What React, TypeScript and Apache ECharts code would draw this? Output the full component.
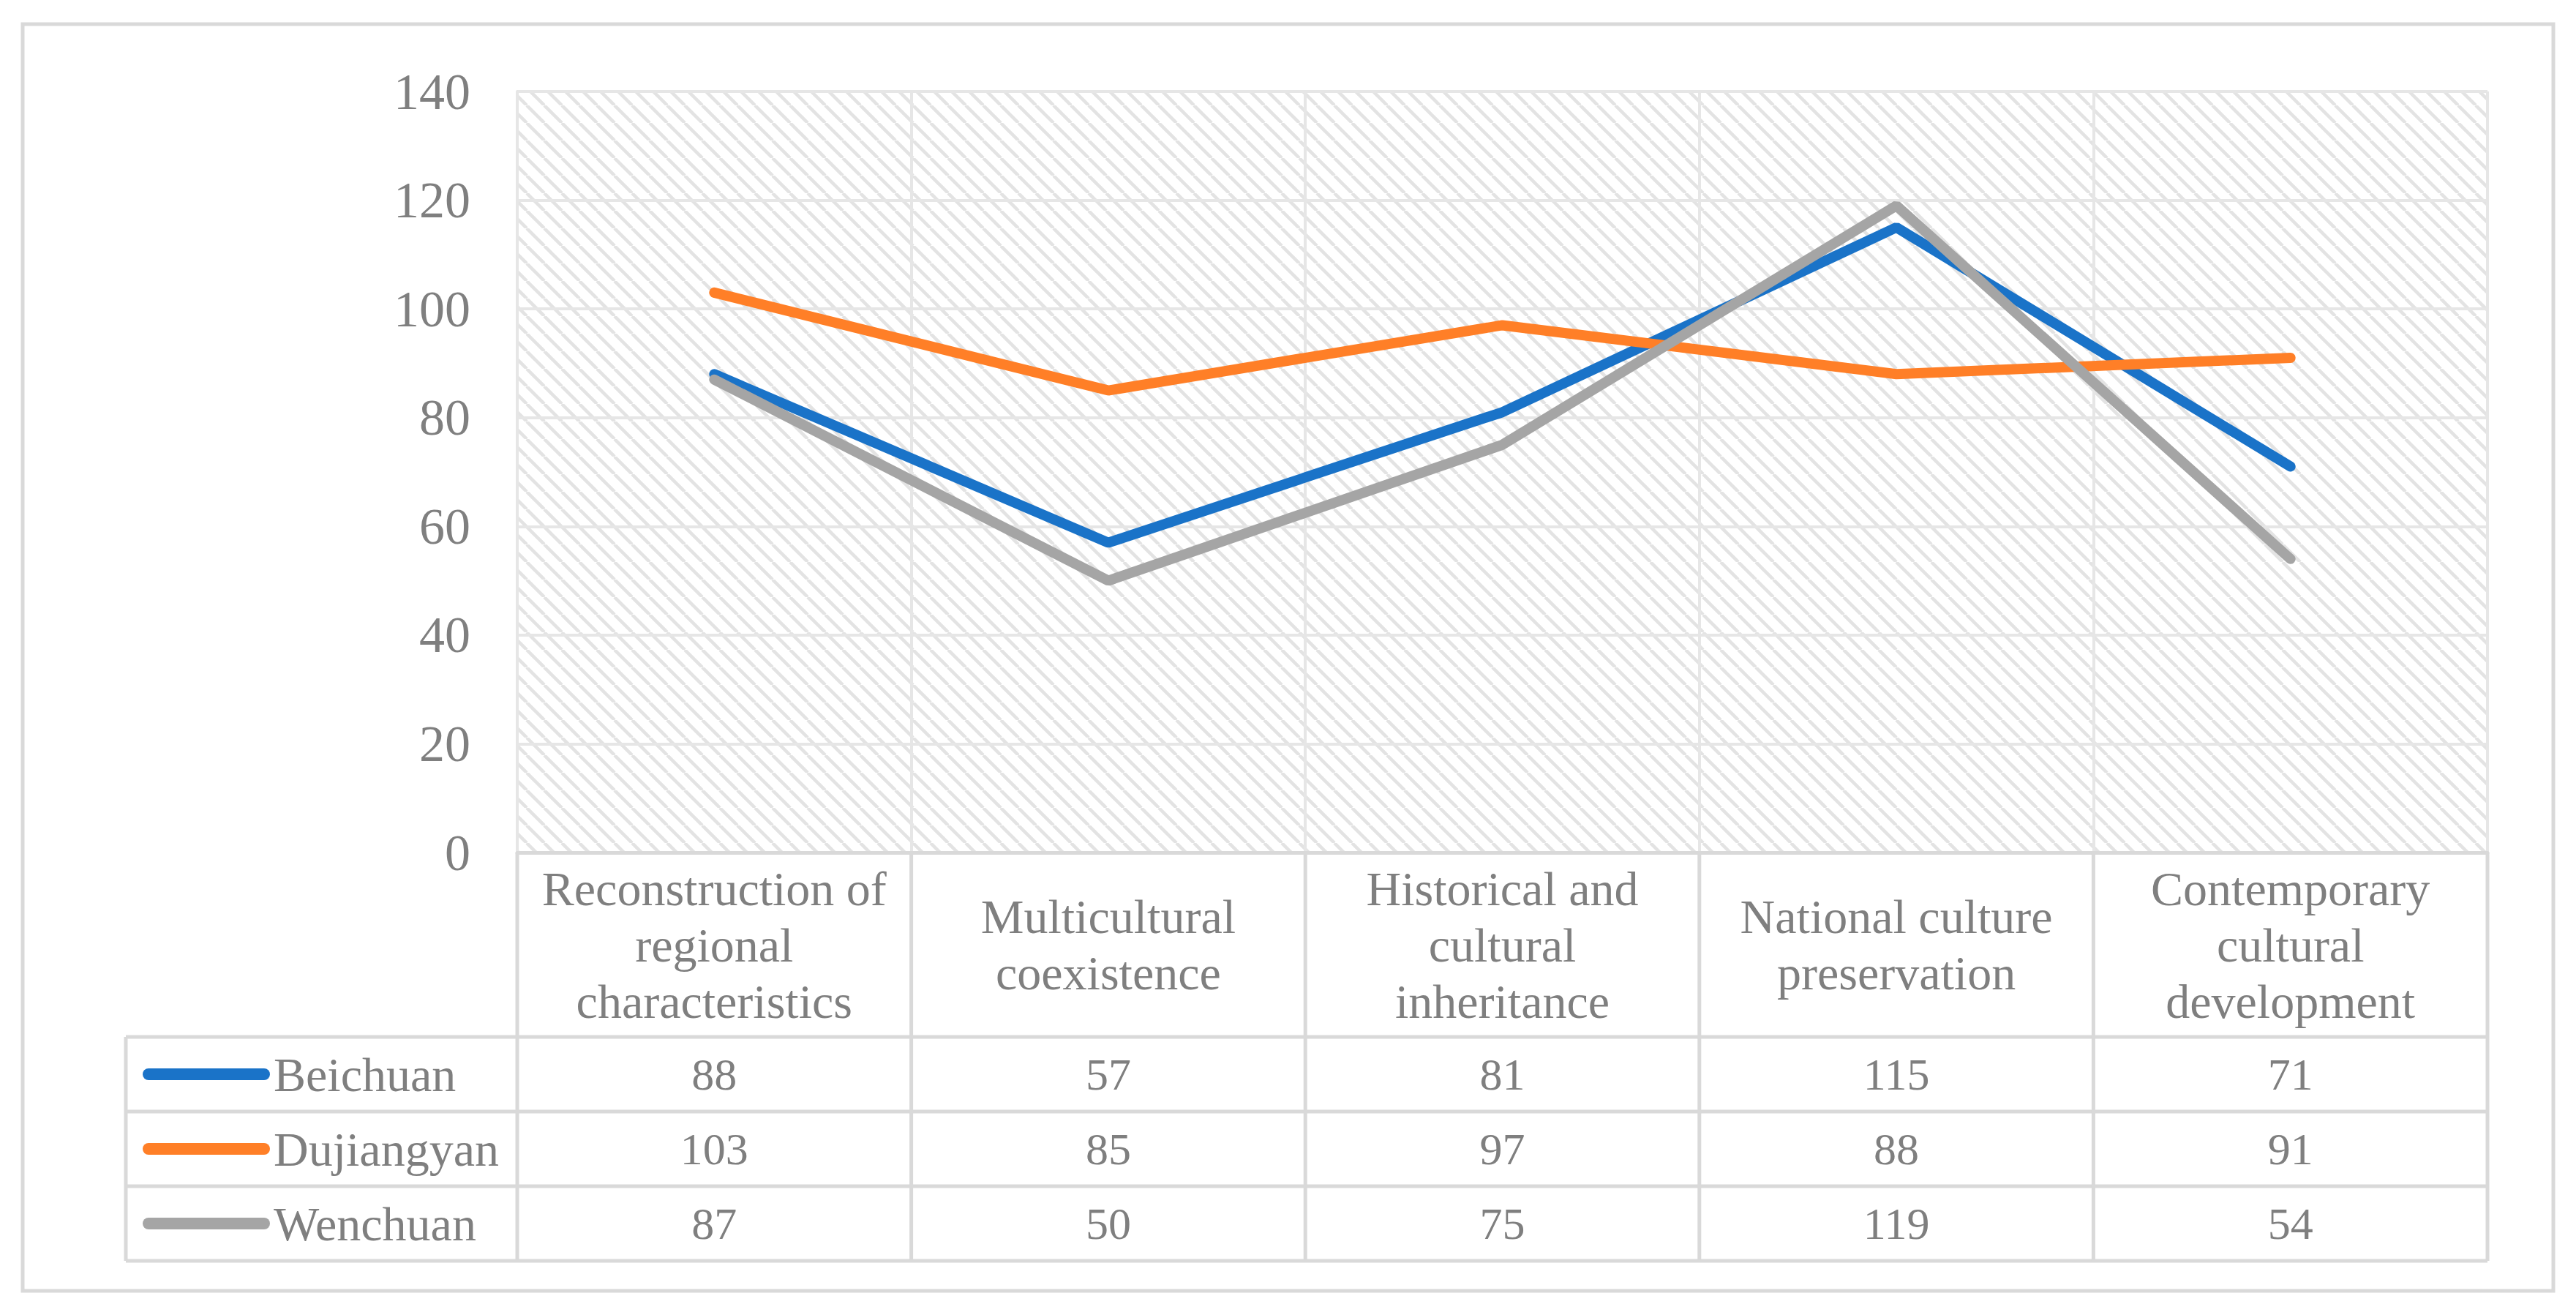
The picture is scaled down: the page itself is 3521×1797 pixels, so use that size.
import React, { useEffect, useRef } from "react";
import * as echarts from "echarts";

const categories = [
  "Reconstruction of\nregional\ncharacteristics",
  "Multicultural\ncoexistence",
  "Historical and\ncultural\ninheritance",
  "National culture\npreservation",
  "Contemporary\ncultural\ndevelopment",
];
const seriesNames = ["Beichuan", "Dujiangyan", "Wenchuan"];
const beichuan = [88, 57, 81, 115, 71];
const dujiangyan = [103, 85, 97, 88, 91];
const wenchuan = [87, 50, 75, 119, 54];
const seriesColors = ["#1a73c8", "#ff7f27", "#a5a5a5"];
const yTicks = { min: 0, max: 140, interval: 20 };

const W = 3521;
const H = 1797;
const FONT = "'Liberation Serif', 'Times New Roman', serif";
const TXT = "#7f7f7f";
const TABLE_LINE = "#d9d9d9";
const GRID_LINE = "#e6e6e6";

// layout
const gridLeft = 707;
const gridRight = 3400;
const gridTop = 125;
const gridBottomY = 1165;
const headerH = 252;
const rowH = 102;
const tableLeft = 172;

function makeHatch() {
  const c = document.createElement("canvas");
  c.width = 24;
  c.height = 24;
  const ctx = c.getContext("2d")!;
  ctx.fillStyle = "#ffffff";
  ctx.fillRect(0, 0, 24, 24);
  ctx.strokeStyle = "#e3e3e3";
  ctx.lineWidth = 4.5;
  for (const off of [-24, 0, 24]) {
    ctx.beginPath();
    ctx.moveTo(off, 0);
    ctx.lineTo(off + 24, 24);
    ctx.stroke();
  }
  return c;
}

export default function App() {
  const ref = useRef<HTMLDivElement>(null);
  useEffect(() => {
    if (!ref.current) return;
    const chart = echarts.init(ref.current, null, { renderer: "svg", width: W, height: H });
    const hatch = makeHatch();
    const allData = [beichuan, dujiangyan, wenchuan];
    const n = categories.length;
    const colW = (gridRight - gridLeft) / n;
    const tableBottom = gridBottomY + headerH + rowH * seriesNames.length;

    const graphics: any[] = [
      {
        type: "rect",
        shape: { x: 31, y: 33, width: 3459, height: 1731 },
        style: { fill: "none", stroke: TABLE_LINE, lineWidth: 5 },
        z: 10,
      },
    ];
    for (let r = 0; r <= seriesNames.length; r++) {
      const y = gridBottomY + headerH + r * rowH;
      graphics.push({
        type: "line",
        shape: { x1: tableLeft, y1: y, x2: gridRight, y2: y },
        style: { stroke: TABLE_LINE, lineWidth: 5 },
        z: 10,
      });
    }
    for (let i = 0; i <= n; i++) {
      const x = gridLeft + i * colW;
      graphics.push({
        type: "line",
        shape: { x1: x, y1: gridBottomY, x2: x, y2: tableBottom },
        style: { stroke: TABLE_LINE, lineWidth: 5 },
        z: 10,
      });
    }
    graphics.push({
      type: "line",
      shape: { x1: tableLeft, y1: gridBottomY + headerH, x2: tableLeft, y2: tableBottom },
      style: { stroke: TABLE_LINE, lineWidth: 5 },
      z: 10,
    });

    const capsule =
      "path://M8,0 H166 A8,8 0 0 1 166,16 H8 A8,8 0 0 1 8,0 Z";

    const valueAxes = allData.map((vals, r) => ({
      type: "category",
      data: categories,
      position: "bottom",
      boundaryGap: true,
      axisLine: { show: false },
      axisTick: { show: false },
      splitLine: { show: false },
      axisLabel: {
        interval: 0,
        margin: headerH + rowH / 2 + r * rowH,
        verticalAlign: "middle",
        fontFamily: FONT,
        fontSize: 62,
        color: TXT,
        formatter: (_v: string, idx: number) => String(vals[idx]),
      },
    }));

    chart.setOption({
      animation: false,
      backgroundColor: "#ffffff",
      grid: {
        left: gridLeft,
        right: W - gridRight,
        top: gridTop,
        bottom: H - gridBottomY,
        show: true,
        backgroundColor: { image: hatch, repeat: "repeat", imageWidth: 24, imageHeight: 24 },
        borderWidth: 0,
      },
      legend: seriesNames.map((name, r) => ({
        data: [name],
        left: 190,
        top: gridBottomY + headerH + rowH / 2 + r * rowH - 38,
        orient: "vertical",
        icon: capsule,
        itemWidth: 174,
        itemHeight: 16,
        selectedMode: false,
        textStyle: { fontFamily: FONT, fontSize: 66, lineHeight: 66, color: TXT },
      })),
      xAxis: [
        {
          type: "category",
          data: categories,
          boundaryGap: true,
          axisLine: { show: true, lineStyle: { color: TABLE_LINE, width: 5 } },
          axisTick: { show: false },
          splitLine: { show: true, lineStyle: { color: GRID_LINE, width: 4 } },
          axisLabel: {
            interval: 0,
            margin: headerH / 2,
            verticalAlign: "middle",
            align: "center",
            fontFamily: FONT,
            fontSize: 66,
            lineHeight: 77,
            color: TXT,
          },
        },
        ...valueAxes,
      ],
      yAxis: {
        type: "value",
        min: yTicks.min,
        max: yTicks.max,
        interval: yTicks.interval,
        axisLine: { show: true, lineStyle: { color: GRID_LINE, width: 4 } },
        axisTick: { show: false },
        splitLine: { show: true, lineStyle: { color: GRID_LINE, width: 4 } },
        axisLabel: { fontFamily: FONT, fontSize: 70, color: TXT, margin: 64 },
      },
      series: allData.map((vals, r) => ({
        name: seriesNames[r],
        type: "line",
        data: vals,
        symbol: "none",
        color: seriesColors[r],
        lineStyle: { width: 14, color: seriesColors[r], cap: "round" },
        z: 5 + r,
      })),
      graphic: graphics,
    });
    return () => chart.dispose();
  }, []);
  return (
    <div
      ref={ref}
      style={{ position: "fixed", left: 0, top: 0, width: W, height: H, background: "#fff" }}
    />
  );
}
